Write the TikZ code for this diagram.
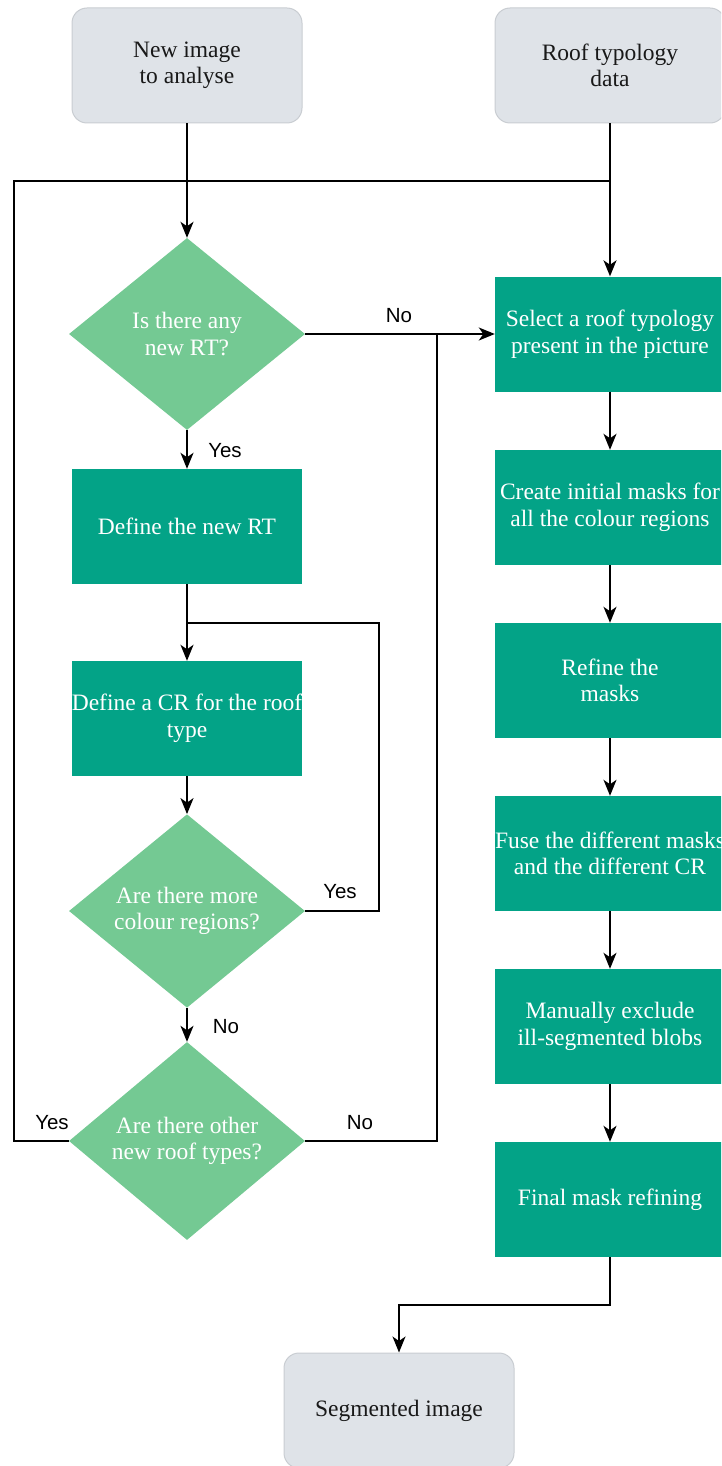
\documentclass[tikz,border=0pt]{standalone}
\usepackage{fontspec}
\setmainfont{Liberation Serif}
\newfontfamily\labfont{Liberation Sans}
\usetikzlibrary{shapes.geometric,arrows.meta}
\definecolor{termfill}{HTML}{DFE3E8}
\definecolor{termdraw}{HTML}{C9CDD2}
\definecolor{procfill}{HTML}{03A387}
\definecolor{decfill}{HTML}{74C993}
\tikzset{
  terminal/.style={rectangle, rounded corners=15pt, fill=termfill, draw=termdraw, line width=1pt,
    minimum width=230pt, minimum height=115pt, align=center, inner sep=0pt,
    font=\fontsize{23.5}{26.5}\selectfont, text=black!90},
  process/.style={rectangle, fill=procfill, minimum width=230pt, minimum height=115pt,
    align=center, inner sep=0pt, text=white, font=\fontsize{23.5}{26.5}\selectfont},
  decision/.style={diamond, fill=decfill, minimum width=236pt, minimum height=192pt,
    align=center, inner sep=0pt, text=white, font=\fontsize{23.5}{26.5}\selectfont},
  conn/.style={line width=1.7pt, draw=black},
  arr/.style={conn, -{Stealth[length=16pt,width=13pt,inset=4.5pt]}},
  lbl/.style={font=\labfont\fontsize{20.5}{24}\selectfont, inner sep=0pt}
}
\begin{document}
\begin{tikzpicture}[x=1pt,y=-1pt]
\useasboundingbox (0,0) rectangle (721,1466);
\clip (0,0) rectangle (721,1466);
% nodes
\node[terminal] (img) at (187,65.5) {New image\\to analyse};
\node[terminal] (rtd) at (610,65.5) {Roof typology\\data};
\node[decision] (d1) at (187,334) {Is there any\\new RT?};
\node[process] (defRT) at (187,526.5) {Define the new RT};
\node[process] (defCR) at (187,718.5) {Define a CR for the roof\\type};
\node[decision] (d2) at (187,911) {Are there more\\colour regions?};
\node[decision] (d3) at (187,1141) {Are there other\\new roof types?};
\node[process] (s1) at (610,334) {Select a roof typology\\present in the picture};
\node[process] (s2) at (610,507.5) {Create initial masks for\\all the colour regions};
\node[process] (s3) at (610,680.5) {Refine the\\masks};
\node[process] (s4) at (610,853.5) {Fuse the different masks\\and the different CR};
\node[process] (s5) at (610,1026.5) {Manually exclude\\ill-segmented blobs};
\node[process] (s6) at (610,1199.5) {Final mask refining};
\node[terminal] (seg) at (399,1410.5) {Segmented image};
% junction coordinates
\coordinate (jl) at (14,181);
\coordinate (jr) at (610,181);
\coordinate (jn) at (437,334);
\coordinate (jy) at (379,623);
\coordinate (jy2) at (187,623);
\coordinate (jb) at (610,1305);
% connectors
\draw[arr] (img.south) -- (d1.north);
\draw[arr] (rtd.south) -- (s1.north);
\draw[conn] (d3.west) -| (jl) -- (jr);
\draw[arr] (d1.east) -- (s1.west);
\draw[conn] (d3.east) -| (jn);
\draw[arr] (d1.south) -- (defRT.north);
\draw[arr] (defRT.south) -- (defCR.north);
\draw[conn] (d2.east) -| (jy) -- (jy2);
\draw[arr] (defCR.south) -- (d2.north);
\draw[arr] (d2.south) -- (d3.north);
\draw[arr] (s1.south) -- (s2.north);
\draw[arr] (s2.south) -- (s3.north);
\draw[arr] (s3.south) -- (s4.north);
\draw[arr] (s4.south) -- (s5.north);
\draw[arr] (s5.south) -- (s6.north);
\draw[arr] (s6.south) -- (jb) -| (seg.north);
% labels
\node[lbl] (lno1) at (399,316) {No};
\node[lbl] (lyes1) at (225,451) {Yes};
\node[lbl] (lyes2) at (340,892) {Yes};
\node[lbl] (lno2) at (226,1027) {No};
\node[lbl] (lyes3) at (52,1123) {Yes};
\node[lbl] (lno3) at (360,1123) {No};
\end{tikzpicture}
\end{document}
